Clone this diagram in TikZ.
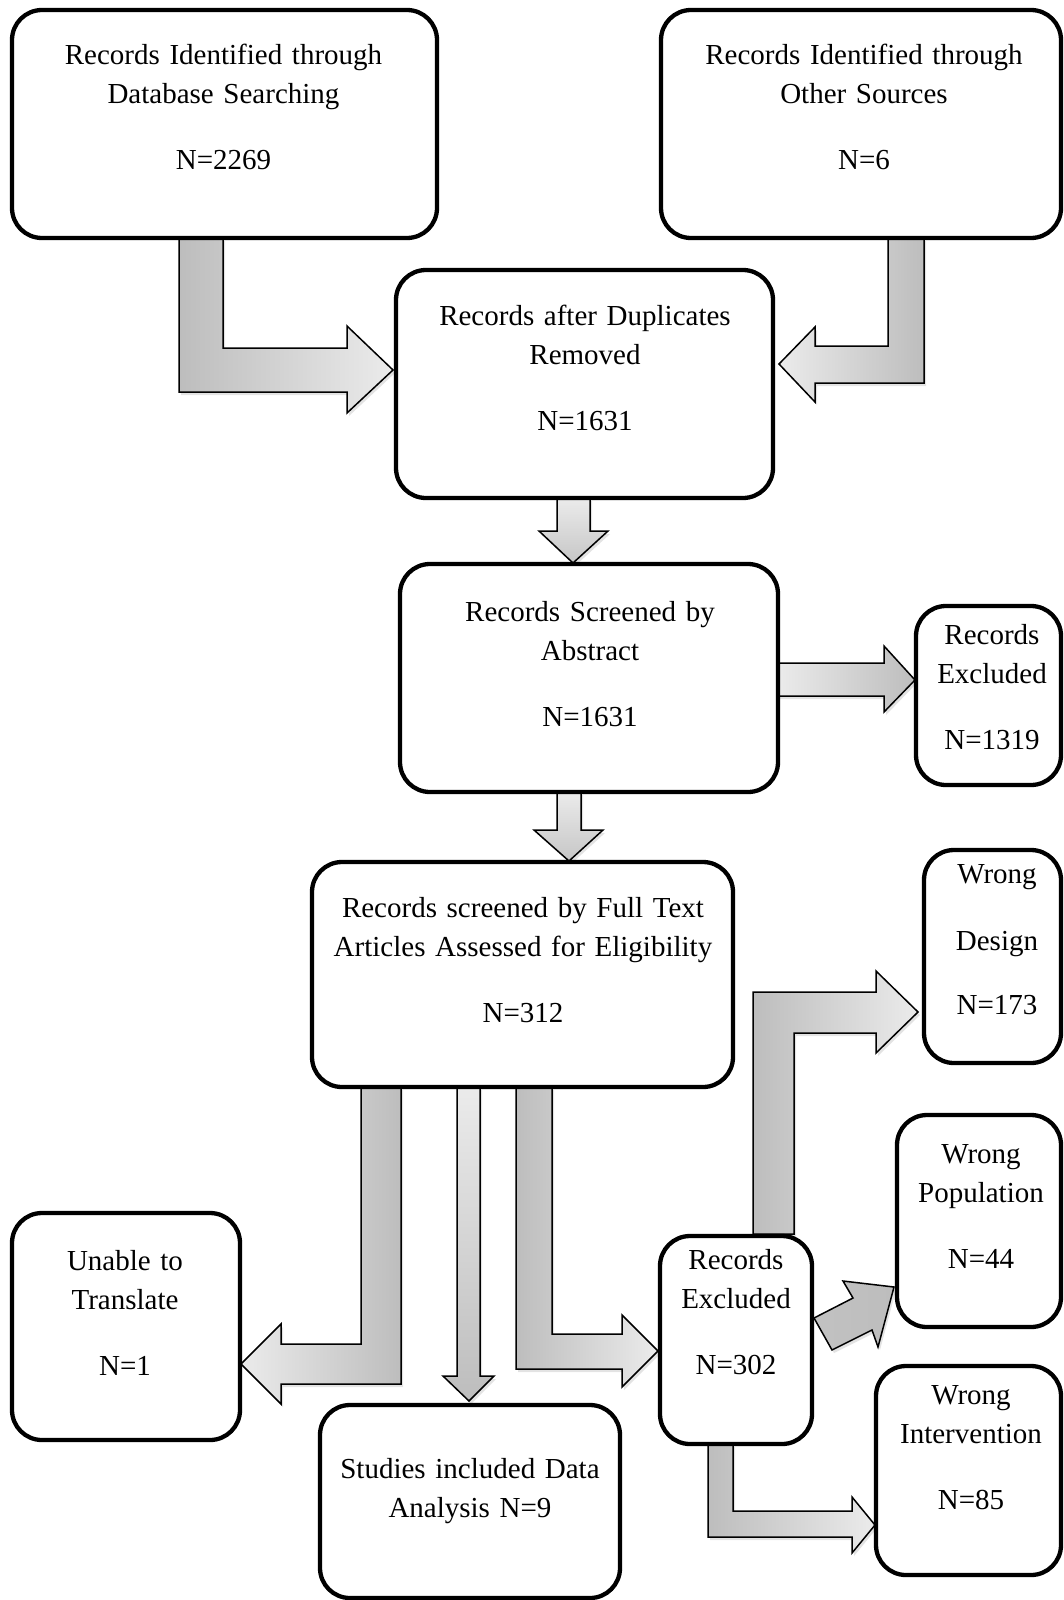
\documentclass[tikz,border=0pt]{standalone}
\usepackage{fontspec}
\setmainfont{Liberation Serif}
\usetikzlibrary{shadows}
\definecolor{gdark}{HTML}{BDBDBD}
\definecolor{glight}{HTML}{EBEBEB}
\tikzset{
  box/.style={draw=black, line width=4.3pt, rounded corners=30pt, inner sep=0pt},
  txt/.style={font=\fontsize{29}{39}\selectfont, text width=440pt, align=center, inner sep=0pt, anchor=base},
  barrow/.style={draw=black, line width=1.5pt, line join=miter,
    drop shadow={opacity=0.22, shadow xshift=2pt, shadow yshift=-3pt}},
}
\begin{document}
\begin{tikzpicture}[x=1pt,y=-1pt]
\useasboundingbox (0,0) rectangle (1063,1600);

% ---- block arrows ----
% Box1 -> Box3
\draw[barrow, left color=gdark, right color=glight]
  (179,238) -- (223,238) -- (223,348) -- (347,348) -- (347,326) -- (393,370)
  -- (347,413) -- (347,392) -- (179,392) -- cycle;
% Box2 -> Box3
\draw[barrow, left color=glight, right color=gdark]
  (924,238) -- (924,383) -- (815,383) -- (815,402) -- (779,364) -- (815,327)
  -- (815,346) -- (888,346) -- (888,238) -- cycle;
% Box3 -> Box4
\draw[barrow, top color=glight, bottom color=gdark!80!glight]
  (557,498) -- (590,498) -- (590,531) -- (608,531) -- (573,563) -- (539,531)
  -- (557,531) -- cycle;
% Box4 -> Box6
\draw[barrow, top color=glight, bottom color=gdark!80!glight]
  (557,792) -- (581,792) -- (581,830) -- (603,830) -- (569,861) -- (534,830)
  -- (557,830) -- cycle;
% Box4 -> Box5
\draw[barrow, left color=glight, right color=gdark]
  (778,663) -- (884,663) -- (884,646) -- (915,680) -- (884,712) -- (884,696)
  -- (778,696) -- cycle;
% Box6 -> Box9
\draw[barrow, left color=glight, right color=gdark]
  (401,1087) -- (401,1384) -- (281,1384) -- (281,1404) -- (241,1364) -- (281,1324)
  -- (281,1344) -- (361,1344) -- (361,1087) -- cycle;
% Box6 -> Box10
\draw[barrow, top color=glight, bottom color=gdark]
  (457,1087) -- (480,1087) -- (480,1376) -- (494,1376) -- (469,1401) -- (443,1376)
  -- (457,1376) -- cycle;
% Box6 -> Box11
\draw[barrow, left color=gdark, right color=glight]
  (516,1087) -- (552,1087) -- (552,1334) -- (622,1334) -- (622,1315) -- (658,1351)
  -- (622,1387) -- (622,1369) -- (516,1369) -- cycle;
% Box11 -> Box7
\draw[barrow, left color=gdark, right color=glight]
  (753,1234) -- (753,992) -- (876,992) -- (876,971) -- (918,1012) -- (876,1053)
  -- (876,1033) -- (794,1033) -- (794,1234) -- cycle;
% Box11 -> Box8
\draw[barrow, left color=gdark!90!glight, right color=gdark]
  (814,1318) -- (853,1298) -- (843,1281) -- (894,1287) -- (878,1347) -- (872,1330)
  -- (832,1350) -- cycle;
% Box11 -> Box12
\draw[barrow, left color=gdark, right color=glight]
  (708,1444) -- (733,1444) -- (733,1511) -- (852,1511) -- (852,1497) -- (875,1525)
  -- (852,1553) -- (852,1537) -- (708,1537) -- cycle;

% ---- boxes ----
\node[box, minimum width=425pt, minimum height=228pt] (b1) at (224.5,124) {};
\node[box, minimum width=400pt, minimum height=228pt] (b2) at (861,124) {};
\node[box, minimum width=377pt, minimum height=228pt] (b3) at (584.5,384) {};
\node[box, minimum width=378pt, minimum height=228pt] (b4) at (589,678) {};
\node[box, minimum width=145pt, minimum height=179pt] (b5) at (988.5,695.5) {};
\node[box, minimum width=421pt, minimum height=225pt] (b6) at (522.5,974.5) {};
\node[box, minimum width=137pt, minimum height=213pt] (b7) at (992.5,956.5) {};
\node[box, minimum width=164pt, minimum height=212pt] (b8) at (979,1221) {};
\node[box, minimum width=228pt, minimum height=227pt] (b9) at (126,1326.5) {};
\node[box, minimum width=300pt, minimum height=193pt] (b10) at (470,1501.5) {};
\node[box, minimum width=152pt, minimum height=208pt] (b11) at (736,1340) {};
\node[box, minimum width=185pt, minimum height=209pt] (b12) at (968.5,1470.5) {};

% ---- texts ----
\node[txt] (t1) at (223.5,65) {Records Identified through\\Database Searching\\[27pt]N=2269};
\node[txt] (t2) at (864,65) {Records Identified through\\Other Sources\\[27pt]N=6};
\node[txt] (t3) at (585,325) {Records after Duplicates\\Removed\\[27pt]N=1631};
\node[txt] (t4) at (590,621) {Records Screened by\\Abstract\\[27pt]N=1631};
\node[txt] (t5) at (992,644) {Records\\Excluded\\[27pt]N=1319};
\node[txt] (t6) at (523,917) {Records screened by Full Text\\Articles Assessed for Eligibility\\[27pt]N=312};
\node[txt] (t7) at (997,883) {Wrong\\[28pt]Design\\[25pt]N=173};
\node[txt] (t8) at (981,1163) {Wrong\\Population\\[27pt]N=44};
\node[txt] (t9) at (125,1270) {Unable to\\Translate\\[27pt]N=1};
\node[txt] (t10) at (470,1478) {Studies included Data\\Analysis N=9};
\node[txt] (t11) at (736,1269) {Records\\Excluded\\[27pt]N=302};
\node[txt] (t12) at (971,1404) {Wrong\\Intervention\\[27pt]N=85};
\end{tikzpicture}
\end{document}
